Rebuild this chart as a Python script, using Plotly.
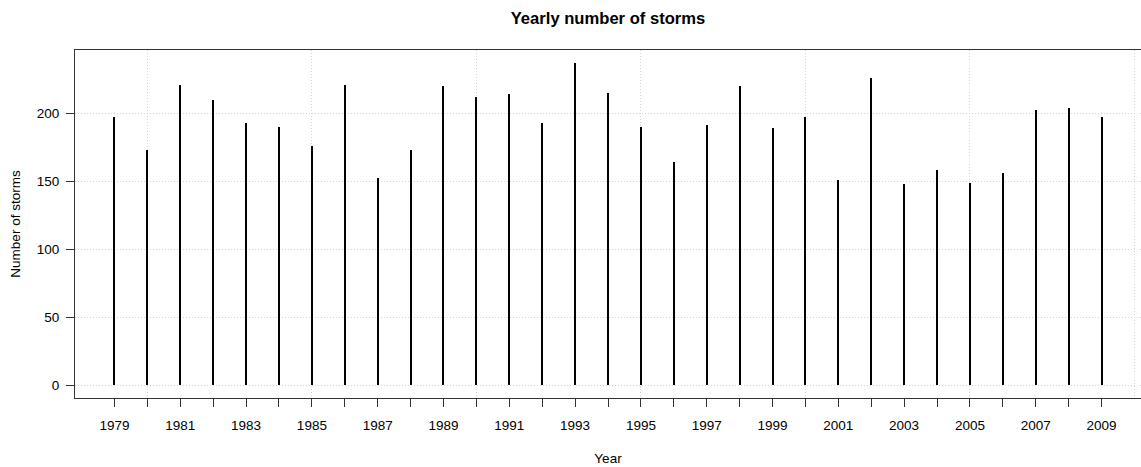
import plotly.graph_objects as go

years = list(range(1979, 2010))
storms = [197, 173, 221, 210, 193, 190, 176, 221, 152, 173,
          220, 212, 214, 193, 237, 215, 190, 164, 191, 220,
          189, 197, 151, 226, 148, 158, 149, 156, 202, 204, 197]
x_tick_labels = [str(y) if y % 2 == 1 else "" for y in years]
x_grid_vals = list(range(1980, 2011, 5))
y_tick_vals = [0, 50, 100, 150, 200]

FONT = "Liberation Sans, Arial, Helvetica, sans-serif"
GRID = "#d4d4d4"
AX = "#333333"
FS = 13.5

fig = go.Figure()
fig.add_trace(go.Bar(x=years, y=storms, width=0.0608,
                     marker=dict(color="black", line=dict(width=0)),
                     xaxis="x", yaxis="y", showlegend=False))
# invisible helper trace so the overlay grid axis is drawn
fig.add_trace(go.Scatter(x=[years[0]], y=[storms[0]], mode="markers",
                         marker=dict(opacity=0), hoverinfo="skip",
                         xaxis="x2", yaxis="y", showlegend=False))

xr = [1977.8, 2010.2]
yr = [-9.48, 246.48]

fig.update_layout(
    width=1141, height=467,
    margin=dict(l=75, r=0, t=50, b=69),
    paper_bgcolor="white", plot_bgcolor="white",
    font=dict(family=FONT, size=FS, color="black"),
    title=dict(text="<b>Yearly number of storms</b>", x=0.5, xref="paper",
               xanchor="center", y=0.962, yref="container", yanchor="middle",
               font=dict(family=FONT, size=16.6, color="black")),
    xaxis=dict(range=xr, tickmode="array", tickvals=years, ticktext=x_tick_labels,
               ticks="outside", ticklen=8, tickcolor=AX, tickwidth=1,
               showline=True, linecolor=AX, linewidth=1, mirror=True,
               showgrid=False, zeroline=False, ticklabelstandoff=7,
               title=dict(text="Year", standoff=21, font=dict(size=FS)),
               tickfont=dict(size=FS)),
    xaxis2=dict(range=xr, overlaying="x", anchor="y", side="bottom",
                tickmode="array", tickvals=x_grid_vals, showticklabels=False,
                ticks="", showline=False, zeroline=False,
                showgrid=True, gridcolor=GRID, griddash="1px,2px", gridwidth=1),
    yaxis=dict(range=yr, tickmode="array", tickvals=y_tick_vals,
               ticks="outside", ticklen=8, tickcolor=AX, tickwidth=1,
               showline=True, linecolor=AX, linewidth=1, mirror=True,
               showgrid=True, gridcolor=GRID, griddash="1px,2px", gridwidth=1,
               zeroline=False, ticklabelstandoff=4,
               title=dict(text="Number of storms", standoff=13, font=dict(size=FS)),
               tickfont=dict(size=FS)),
    bargap=0,
)

fig.write_html("out.html",
               config={"displayModeBar": False},
               post_script="document.body.style.margin='0';document.body.style.overflow='hidden';")
